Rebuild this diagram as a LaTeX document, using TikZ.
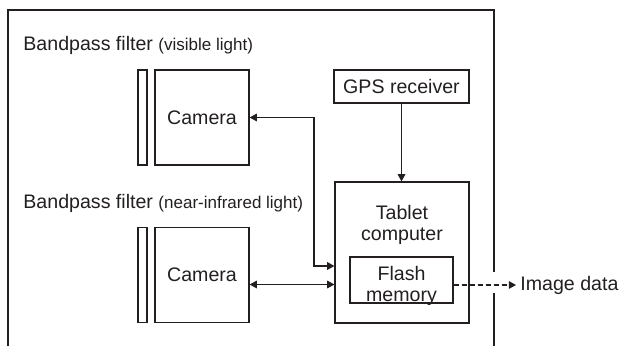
\documentclass[tikz,border=0pt]{standalone}
\usepackage{fontspec}
\setmainfont{Liberation Sans}
\usetikzlibrary{arrows.meta,positioning}
\definecolor{ink}{HTML}{231F20}

\begin{document}
\begin{tikzpicture}[
  x=0.5pt, y=-0.5pt,
  every node/.style={text=ink, font=\fontsize{9.8}{10.5}\selectfont},
  box/.style={draw=ink, line width=0.6pt, inner sep=0pt, text centered},
  cam_style/.style={box, minimum width=47pt, minimum height=47.5pt},
  filter_style/.style={box, minimum width=4.5pt, minimum height=47.5pt},
  frame/.style={draw=ink, line width=0.8pt},
  link/.style={draw=ink, line width=0.6pt, -{Triangle[length=3.6pt,width=3.8pt]}},
  twoway/.style={link, {Triangle[length=3.6pt,width=3.8pt]}-{Triangle[length=3.6pt,width=3.8pt]}}
]
\useasboundingbox (0,0) rectangle (624,346);

% Outer frame (open at the bottom)
\draw[frame] (8,346) -- (8,10) -- (494,10) -- (494,272);
\draw[frame] (494,293) -- (494,346);

% Visible light camera
\node[anchor=west, inner sep=0pt] (vislabel) at (23,45) {Bandpass filter \textnormal{\fontsize{8.5}{10}\selectfont(visible light)}};
\node[filter_style] (filt1) at (142.5,117.5) {};
\node[cam_style] (cam1) at (202,117.5) {Camera};

% Near-infrared camera
\node[anchor=west, inner sep=0pt] (nirlabel) at (23,203) {Bandpass filter \textnormal{\fontsize{8.5}{10}\selectfont(near-infrared light)}};
\node[filter_style] (filt2) at (142.5,275) {};
\node[cam_style] (cam2) at (202,275) {Camera};

% GPS and tablet
\node[box, minimum width=67.5pt, minimum height=16.5pt] (gps) at (401.5,86.5) {GPS receiver};
\node[box, minimum width=67pt, minimum height=70.5pt] (tablet) at (402,252.5) {};
\node[align=center, inner sep=0pt] (tablettxt) at (402,225) {Tablet\\computer};
\node[box, minimum width=51.5pt, minimum height=23pt] (flash) at (401.5,280) {};
\node[align=center, inner sep=0pt] (flashtxt) at (401.5,286) {Flash\\memory};
\node[anchor=west, inner sep=2pt] (img) at (516,285) {Image data};

% Connections
\coordinate (bend) at (314,266);
\draw[link] (gps.south) -- (gps.south |- tablet.north);
\draw[twoway] (cam1.east) -| (bend) -- (bend -| tablet.west);
\draw[twoway] ([yshift=-4.75pt]cam2.east) -- ([yshift=-4.75pt]cam2.east -| tablet.west);
\draw[link, dash pattern=on 2.5pt off 1.5pt] ([yshift=-2.5pt]flash.east) -- (img.west);
\end{tikzpicture}
\end{document}
